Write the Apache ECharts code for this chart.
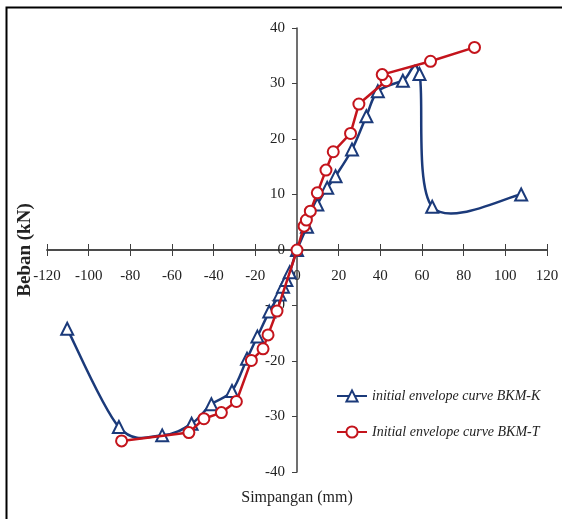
<!DOCTYPE html>
<html>
<head>
<meta charset="utf-8">
<script src="https://cdn.jsdelivr.net/npm/echarts@6/dist/echarts.min.js"></script>
<style>
html,body{margin:0;padding:0;background:#fff;}
#chart{width:562px;height:519px;}
</style>
</head>
<body>
<div id="chart"></div>
<script>
// Tick definitions
const xTicks = [-120, -100, -80, -60, -40, -20, 0, 20, 40, 60, 80, 100, 120];
const yTicks = [-40, -30, -20, -10, 0, 10, 20, 30, 40];

// Series: initial envelope curve BKM-K (displacement mm, load kN)
const bkmKX = [-110.3, -85.5, -64.7, -50.6, -41.1, -31.2, -24.0, -19.0, -13.3, -8.3, -6.7, -5.1, -3.5, 0, 4.8, 9.75, 14.5, 18.5, 26.4, 33.3, 38.8, 50.8, 58.8, 64.9, 107.6];
const bkmKY = [-14.2, -31.9, -33.4, -31.3, -27.8, -25.4, -19.6, -15.6, -11.1, -8.0, -6.6, -5.4, -4.0, 0, 4.2, 8.2, 11.2, 13.3, 18.1, 24.1, 28.6, 30.5, 31.7, 7.8, 10.0];

// Series: Initial envelope curve BKM-T
const bkmTX = [-84.2, -51.9, -44.7, -36.3, -29.1, -21.9, -16.3, -13.9, -9.6, 0, 3.4, 4.5, 6.4, 9.75, 13.9, 17.4, 25.7, 29.7, 42.8, 40.9, 64.1, 85.2];
const bkmTY = [-34.4, -32.9, -30.4, -29.3, -27.3, -19.9, -17.8, -15.3, -11.0, 0, 4.3, 5.4, 7.0, 10.3, 14.4, 17.7, 21.0, 26.3, 30.5, 31.6, 34.0, 36.5];

const seriesNames = ['initial envelope curve BKM-K', 'Initial envelope curve BKM-T'];

const FONT = "'Liberation Serif', 'Times New Roman', serif";
const AXIS_COLOR = '#404040';
const BLUE = '#1B3A7A';
const RED = '#C4141C';

const zip = (xs, ys) => xs.map((x, i) => [x, ys[i]]);
const bkmK = zip(bkmKX, bkmKY);
const bkmT = zip(bkmTX, bkmTY);

const W = 562, H = 519;
const G = { left: 47, right: 15, top: 28, bottom: 47 };
const gridW = W - G.left - G.right;
const gridH = H - G.top - G.bottom;
const xMin = xTicks[0], xMax = xTicks[xTicks.length - 1];
const yMin = yTicks[0], yMax = yTicks[yTicks.length - 1];
const xStep = xTicks[1] - xTicks[0];
const yStep = yTicks[1] - yTicks[0];
// axes cross at the origin: shift them from the grid edges
const yAxisShift = -((0 - xMin) / (xMax - xMin)) * gridW;
const xAxisShiftBottom = -((0 - yMin) / (yMax - yMin)) * gridH;
const xAxisShiftTop = -((yMax - 0) / (yMax - yMin)) * gridH;

// Smoothed (Catmull-Rom, spreadsheet-style) path through the series points,
// with point positions taken from the chart's own coordinate system.
function smoothPathRender(points, color) {
  return function (params, api) {
    if (params.dataIndex !== 0) return null;
    const p = points.map(d => api.coord(d));
    const n = p.length;
    let d = 'M' + p[0][0] + ' ' + p[0][1];
    for (let i = 0; i < n - 1; i++) {
      const p0 = p[i - 1] || p[i];
      const p1 = p[i];
      const p2 = p[i + 1];
      const p3 = p[i + 2] || p[i + 1];
      const c1x = p1[0] + (p2[0] - p0[0]) / 6;
      const c1y = p1[1] + (p2[1] - p0[1]) / 6;
      const c2x = p2[0] - (p3[0] - p1[0]) / 6;
      const c2y = p2[1] - (p3[1] - p1[1]) / 6;
      d += ' C' + c1x + ' ' + c1y + ' ' + c2x + ' ' + c2y + ' ' + p2[0] + ' ' + p2[1];
    }
    return {
      type: 'path',
      shape: { pathData: d },
      style: { fill: 'none', stroke: color, lineWidth: 2.5, lineJoin: 'round' },
      silent: true
    };
  };
}

const chart = echarts.init(document.getElementById('chart'));

const option = {
  backgroundColor: '#fff',
  animation: false,
  grid: { left: G.left, right: G.right, top: G.top, bottom: G.bottom, containLabel: false, outerBoundsMode: 'none' },
  graphic: [{
    type: 'rect',
    shape: { x: 6.5, y: 7.5, width: 620, height: 620 },
    style: { fill: 'none', stroke: '#000', lineWidth: 2 },
    silent: true
  }],
  legend: {
    orient: 'vertical',
    left: 336,
    top: 389,
    padding: 0,
    itemWidth: 30,
    itemHeight: 14,
    itemGap: 22,
    data: seriesNames,
    lineStyle: { opacity: 1 },
    textStyle: { fontFamily: FONT, fontStyle: 'italic', fontSize: 14, color: '#222' }
  },
  xAxis: [{
    type: 'value',
    position: 'bottom',
    offset: xAxisShiftBottom,
    min: xMin, max: xMax, interval: xStep,
    name: 'Simpangan (mm)',
    nameLocation: 'middle',
    nameGap: 240,
    nameTextStyle: { fontFamily: FONT, fontSize: 16, color: '#222' },
    axisLine: { onZero: false, lineStyle: { color: AXIS_COLOR, width: 1.5 } },
    axisTick: { show: true, inside: false, length: 6, lineStyle: { color: AXIS_COLOR, width: 1 } },
    axisLabel: { fontFamily: FONT, fontSize: 15, color: '#222', margin: 19 },
    splitLine: { show: false }
  }, {
    type: 'value',
    position: 'top',
    offset: xAxisShiftTop,
    min: xMin, max: xMax, interval: xStep,
    axisLine: { onZero: false, lineStyle: { color: AXIS_COLOR, width: 1.5 } },
    axisTick: { show: true, inside: false, length: 6, lineStyle: { color: AXIS_COLOR, width: 1 } },
    axisLabel: { show: false },
    splitLine: { show: false }
  }],
  yAxis: {
    type: 'value',
    position: 'left',
    offset: yAxisShift,
    min: yMin, max: yMax, interval: yStep,
    name: 'Beban (kN)',
    nameLocation: 'middle',
    nameGap: 262,
    nameTextStyle: { fontFamily: FONT, fontSize: 19, fontWeight: 'bold', color: '#222' },
    axisLine: { show: true, onZero: false, lineStyle: { color: AXIS_COLOR, width: 1.5 } },
    axisTick: { show: true, inside: false, length: 5, lineStyle: { color: AXIS_COLOR, width: 1 } },
    axisLabel: { fontFamily: FONT, fontSize: 15, color: '#222', margin: 12 },
    splitLine: { show: false }
  },
  series: [{
    name: seriesNames[0],
    type: 'line',
    xAxisIndex: 0,
    data: bkmK,
    symbol: 'triangle',
    symbolSize: 12,
    showAllSymbol: true,
    lineStyle: { color: BLUE, width: 2.5, opacity: 0 },
    itemStyle: { color: '#fff', borderColor: BLUE, borderWidth: 2 },
    z: 3
  }, {
    name: seriesNames[0] + ' (curve)',
    type: 'custom',
    xAxisIndex: 0,
    data: bkmK,
    renderItem: smoothPathRender(bkmK, BLUE),
    z: 2
  }, {
    name: seriesNames[1],
    type: 'line',
    xAxisIndex: 0,
    data: bkmT,
    smooth: false,
    symbol: 'circle',
    symbolSize: 11,
    showAllSymbol: true,
    lineStyle: { color: RED, width: 2.5 },
    itemStyle: { color: '#fff', borderColor: RED, borderWidth: 2 },
    z: 4
  }]
};
chart.setOption(option);
</script>
</body>
</html>
